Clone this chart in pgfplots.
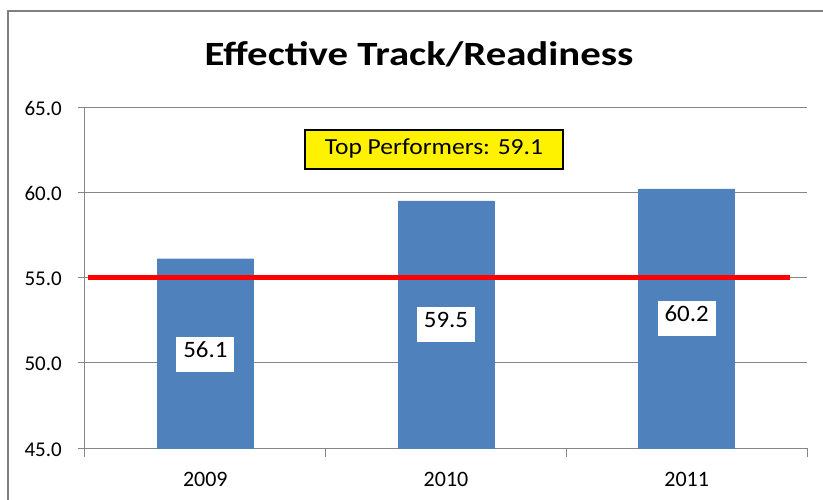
\documentclass[border=0pt]{standalone}
\usepackage{fontspec}
\setmainfont{Carlito}
\newfontfamily\titlefont[FakeStretch=1.2]{Carlito}
\newfontfamily\boxfont[FakeStretch=1.11]{Carlito}
\newfontfamily\valfont[FakeStretch=1.06]{Carlito}
\usepackage{pgfplots}
\pgfplotsset{compat=1.18}
\definecolor{barblue}{RGB}{79,129,189}
\definecolor{gridgray}{RGB}{134,134,134}
\definecolor{framegray}{RGB}{128,128,128}
\begin{document}
\begin{tikzpicture}[x=1pt,y=1pt]
\path[use as bounding box, fill=white] (0,0) rectangle (823,499);
\draw[framegray, line width=2.5pt] (8,-5) -- (8,488) -- (830,488);
\node[anchor=base, font=\titlefont\bfseries\fontsize{34}{37}\selectfont, inner sep=0pt] at (419,433) {Effective Track/Readiness};
\begin{axis}[
  at={(85pt,51pt)}, anchor=south west,
  scale only axis, width=722pt, height=341pt,
  xmin=-0.5, xmax=2.5, ymin=45, ymax=65,
  axis x line*=bottom, axis y line*=left,
  axis line style={gridgray, line width=1pt},
  ytick={45,50,55,60,65},
  ymajorgrids, grid style={gridgray, line width=1pt},
  yticklabel style={/pgf/number format/fixed, /pgf/number format/fixed zerofill, /pgf/number format/precision=1,
    font=\fontsize{21}{23}\selectfont, anchor=east, inner sep=0pt, xshift=-16pt, yshift=-1.5pt},
  /pgf/number format/assume math mode=true,
  xtick={0,1,2}, xticklabels={2009,2010,2011},
  xticklabel style={font=\fontsize{22}{24}\selectfont, anchor=base, inner sep=0pt, yshift=-31pt},
  minor xtick={-0.5,0.5,1.5,2.5},
  major x tick style={draw=none},
  tick align=outside,
  major tick length=7pt, minor tick length=9pt,
  tick style={gridgray, line width=1pt},
  clip=true,
]
\addplot[ybar, bar width=96pt, bar shift=0pt, fill=barblue, draw=barblue] coordinates {(0,56.1) (1,59.5) (2,60.2)};
\addplot[red, line width=5pt, mark=none] coordinates {(-0.488,55) (2.43,55)};
\addplot[only marks, mark=none, point meta=explicit symbolic, nodes near coords,
  every node near coord/.append style={anchor=center, fill=white, inner xsep=7pt, inner ysep=0pt,
    minimum height=35pt, text height=0.66em, text depth=0.02em, font=\valfont\fontsize{23.5}{25}\selectfont, text=black}]
  coordinates {(0,50.5)[56.1] (1,52.26)[59.5] (2,52.6)[60.2]};
\addplot[only marks, mark=none, point meta=explicit symbolic, nodes near coords,
  every node near coord/.append style={anchor=center, fill=yellow, draw=black, line width=1.5pt,
    minimum width=258pt, minimum height=39pt, inner ysep=0pt, text height=1.1em, text depth=0.05em,
    font=\boxfont\fontsize{23}{25}\selectfont, text=black}]
  coordinates {(0.95,62.5)[Top Performers: 59.1]};
\end{axis}
\end{tikzpicture}
\end{document}
